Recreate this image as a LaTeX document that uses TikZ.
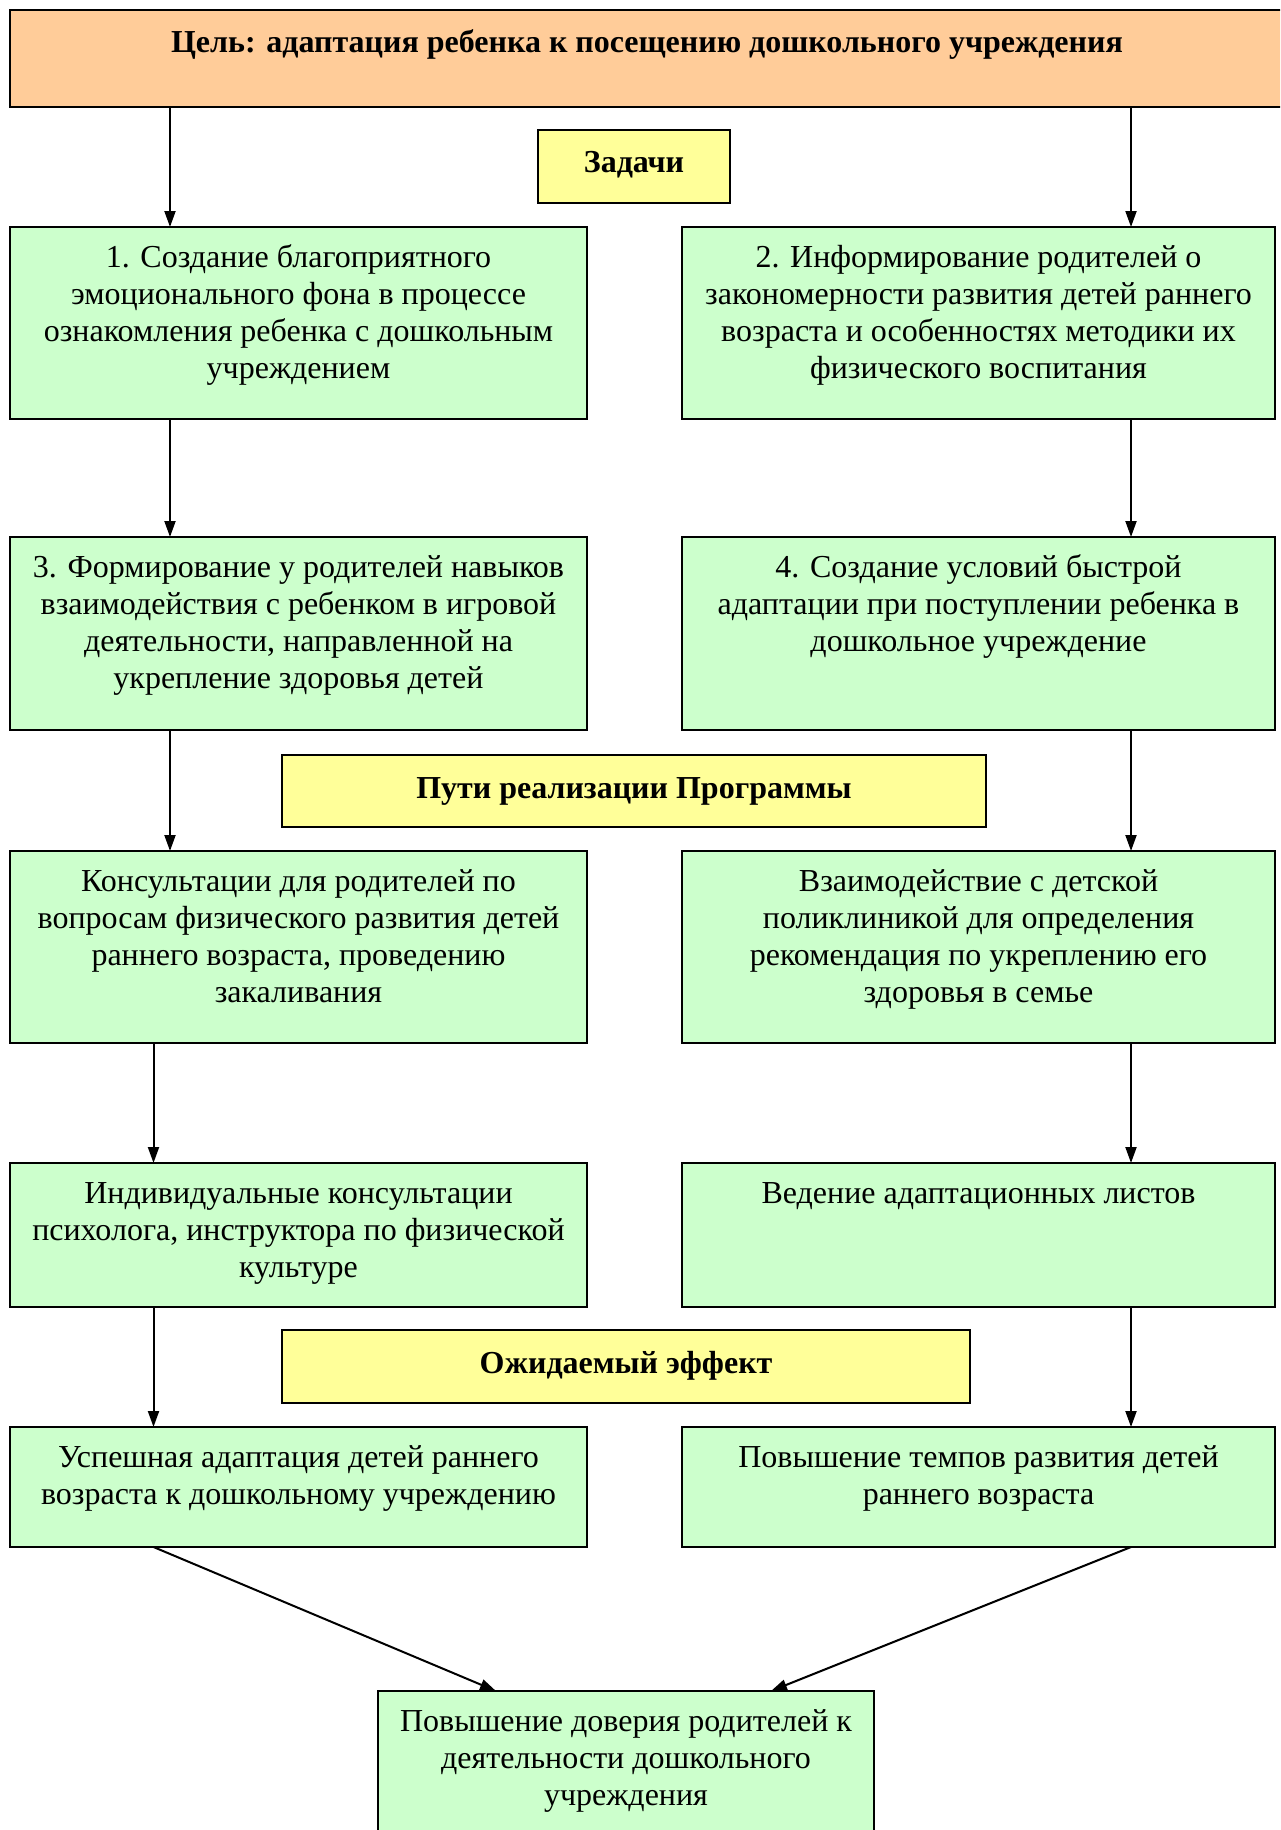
\documentclass[tikz,border=0pt]{standalone}
\usepackage{fontspec}
\setmainfont{Liberation Serif}
\usetikzlibrary{arrows.meta}
\definecolor{orangebox}{HTML}{FFCC99}
\definecolor{greenbox}{HTML}{CCFFCC}
\definecolor{yellowbox}{HTML}{FFFF99}
\newcommand\boxtext[3]{\parbox[c][#2pt][t]{#1pt}{\centering\fontsize{32}{37}\selectfont\rule{0pt}{40pt}#3\par}}
\newcommand\headtext[3]{\parbox[c][#2pt][t]{#1pt}{\centering\fontsize{32}{37}\selectfont\rule{0pt}{43pt}#3\par}}
\tikzset{
  base/.style={draw=black, line width=2pt, inner sep=0pt, outer sep=0pt, anchor=north west},
  gbox/.style={base, fill=greenbox},
  ybox/.style={base, fill=yellowbox, font=\bfseries},
  obox/.style={base, fill=orangebox, font=\bfseries},
  arr/.style={line width=2pt, -{Triangle[length=16pt,width=11pt]}},
}
\begin{document}
\begin{tikzpicture}[x=1pt, y=-1pt]
\useasboundingbox (0,0) rectangle (1280,1830);
\clip (0,0) rectangle (1280,1830);
\fill[white] (0,0) rectangle (1280,1830);
% column coordinates
\coordinate (xL1) at (170,0);
\coordinate (xL2) at (153.5,0);
\coordinate (xR) at (1131,0);
\coordinate (xD1) at (496,0);
\coordinate (xD2) at (771,0);

\node[obox] (goal) at (10,10) {\headtext{1274}{97}{Цель: адаптация ребенка к посещению дошкольного учреждения}};
\node[ybox] (tasks) at (538,130) {\headtext{192}{73}{Задачи}};

\node[gbox] (b1) at (10,227) {\boxtext{577}{192}{1. Создание благоприятного\\ эмоционального фона в процессе\\ ознакомления ребенка с дошкольным\\ учреждением}};
\node[gbox] (b2) at (682,227) {\boxtext{593}{192}{2. Информирование родителей о\\ закономерности развития детей раннего\\ возраста и особенностях методики их\\ физического воспитания}};

\node[gbox] (b3) at (10,537) {\boxtext{577}{193}{3. Формирование у родителей навыков\\ взаимодействия с ребенком в игровой\\ деятельности, направленной на\\ укрепление здоровья детей}};
\node[gbox] (b4) at (682,537) {\boxtext{593}{193}{4. Создание условий быстрой\\ адаптации при поступлении ребенка в\\ дошкольное учреждение}};

\node[ybox] (ways) at (282,755) {\headtext{704}{72}{Пути реализации Программы}};

\node[gbox] (b5) at (10,851) {\boxtext{577}{192}{Консультации для родителей по\\ вопросам физического развития детей\\ раннего возраста, проведению\\ закаливания}};
\node[gbox] (b6) at (682,851) {\boxtext{593}{192}{Взаимодействие с детской\\ поликлиникой для определения\\ рекомендация по укреплению его\\ здоровья в семье}};

\node[gbox] (b7) at (10,1163) {\boxtext{577}{144}{Индивидуальные консультации\\ психолога, инструктора по физической\\ культуре}};
\node[gbox] (b8) at (682,1163) {\boxtext{593}{144}{Ведение адаптационных листов}};

\node[ybox] (effect) at (282,1330) {\headtext{688}{73}{Ожидаемый эффект}};

\node[gbox] (b9) at (10,1427) {\boxtext{577}{120}{Успешная адаптация детей раннего\\ возраста к дошкольному учреждению}};
\node[gbox] (b10) at (682,1427) {\boxtext{593}{120}{Повышение темпов развития детей\\ раннего возраста}};

\node[gbox] (b11) at (378,1691) {\boxtext{496}{170}{Повышение доверия родителей к\\ деятельности дошкольного\\ учреждения}};

% connectors
\draw[arr] (goal.south -| xL1) -- (b1.north -| xL1);
\draw[arr] (goal.south -| xR) -- (b2.north -| xR);
\draw[arr] (b1.south -| xL1) -- (b3.north -| xL1);
\draw[arr] (b2.south -| xR) -- (b4.north -| xR);
\draw[arr] (b3.south -| xL1) -- (b5.north -| xL1);
\draw[arr] (b4.south -| xR) -- (b6.north -| xR);
\draw[arr] (b5.south -| xL2) -- (b7.north -| xL2);
\draw[arr] (b6.south -| xR) -- (b8.north -| xR);
\draw[arr] (b7.south -| xL2) -- (b9.north -| xL2);
\draw[arr] (b8.south -| xR) -- (b10.north -| xR);
\draw[arr] (b9.south -| xL2) -- (b11.north -| xD1);
\draw[arr] (b10.south -| xR) -- (b11.north -| xD2);
\end{tikzpicture}
\end{document}
